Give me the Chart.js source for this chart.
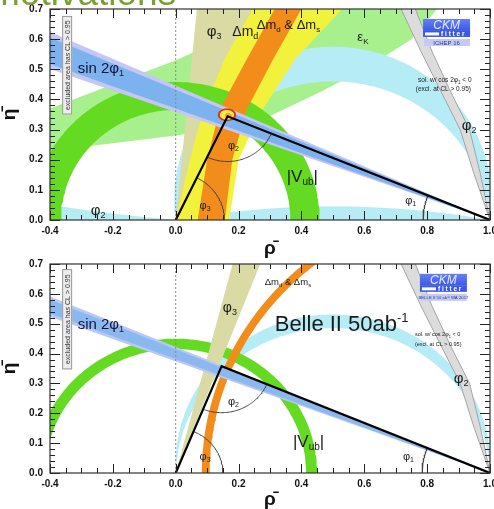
<!DOCTYPE html>
<html><head><meta charset="utf-8">
<script src="https://cdn.jsdelivr.net/npm/chart.js@4.4.1/dist/chart.umd.min.js"></script>
<style>
html,body{margin:0;padding:0;background:#fff;width:494px;height:509px;overflow:hidden;position:relative;font-family:"Liberation Sans",Arial,sans-serif}
#c1{position:absolute;left:0;top:0}
#c2{position:absolute;left:0;top:258px}
#ttl{position:absolute;left:-11px;top:-26px;font-size:37px;line-height:37px;color:#78a032;white-space:nowrap;z-index:5}
</style></head><body>
<div id="ttl">motivations</div>
<canvas id="c1" width="494" height="258"></canvas>
<canvas id="c2" width="494" height="251"></canvas>
<script>
// ---------------- data ----------------
const rhoRange = [-0.4, 1.0];
const etaRange = [0.0, 0.7];
const rhoTicks = [-0.4, -0.2, 0.0, 0.2, 0.4, 0.6, 0.8, 1.0];
const etaTicks = [0.0, 0.1, 0.2, 0.3, 0.4, 0.5, 0.6, 0.7];

// top panel: ICHEP 16 fit
const topApex = [0.165, 0.344];
const topVubRadii = [0.365, 0.458];
const topDmdLeft = [[-0.01,-0.02],[0.0,0.0],[0.045,0.2],[0.086,0.357],[0.155,0.533],[0.245,0.7],[0.275,0.76]];
const topDmdRight = [[0.17,-0.02],[0.17,0.0],[0.2,0.2],[0.27,0.357],[0.38,0.533],[0.53,0.7],[0.58,0.76]];
const topDmsLeft = [[0.07,-0.02],[0.07,0.0],[0.1,0.2],[0.14,0.367],[0.226,0.533],[0.315,0.7],[0.345,0.76]];
const topDmsRight = [[0.156,-0.02],[0.156,0.0],[0.18,0.2],[0.226,0.367],[0.31,0.533],[0.4,0.7],[0.43,0.76]];
const topGammaDeg = [62, 84.5];
const topBetaOuterDeg = [19.7, 24.0];
const topBetaInnerDeg = [20.3, 23.4];
const topAlphaK = [-0.042, 0.070];
const topAlphaFlatK = -2.75;
const topAlphaLeftK = 5.6;
const topEpsKUpper = [[-0.5,0.33],[-0.4,0.37],[-0.2,0.45],[0.0,0.53],[0.15,0.6],[0.3,0.68],[0.37,0.76]];
const topEpsKLower = [[-0.5,0.215],[-0.4,0.23],[-0.2,0.255],[0.0,0.28],[0.25,0.32],[0.45,0.42],[0.6,0.5],[0.75,0.6],[0.88,0.76]];
const topFit = [0.163, 0.349];
const topFitRadii = [[0.029,0.021],[0.023,0.016],[0.011,0.008]];
const topAngleRadii = [0.155, 0.15, 0.213];

// bottom panel: Belle II 50 ab^-1 projection
const botApex = [0.146, 0.358];
const botVubRadii = [0.415, 0.45];
const botDmRadii = [0.892, 0.917];
const botGammaDeg = [69, 75.5];
const botBetaOuterDeg = [20.5, 22.9];
const botBetaInnerDeg = [20.9, 22.5];
const botAlphaK = [-0.015, 0.03];
const botAngleRadii = [0.15, 0.156, 0.216];

// second sin2phi1 solution (cos 2phi1 < 0), both panels
const greyLeft = [[0.69,0.76],[0.78,0.56],[0.85,0.414],[0.905,0.3],[0.95,0.15],[1.0,0.0]];
const greyRight = [[0.74,0.76],[0.815,0.56],[0.88,0.414],[0.935,0.3],[0.97,0.15],[1.0,0.0]];

// ---------------- geometry helpers ----------------
const FF = '"Liberation Sans", Arial, Helvetica, sans-serif';
const R = Math.PI / 180;
function arcPts(cx, cy, rx, ry, a0, a1, n) {
  n = n || 120; const out = [];
  for (let i = 0; i <= n; i++) { const a = (a0 + (a1 - a0) * i / n) * R; out.push([cx + rx * Math.cos(a), cy + ry * Math.sin(a)]); }
  return out;
}
function ringPts(c, radii, a0, a1) {
  return arcPts(c[0], c[1], radii[1], radii[1], a0, a1).concat(arcPts(c[0], c[1], radii[0], radii[0], a1, a0));
}
function wedgePts(o, degs, fromRight) {
  const L = 3, s = fromRight ? -1 : 1;
  return [o, [o[0] + s * L * Math.cos(degs[0] * R), o[1] + L * Math.sin(degs[0] * R)],
             [o[0] + s * L * Math.cos(degs[1] * R), o[1] + L * Math.sin(degs[1] * R)]];
}
function alphaArc(k, rev) {
  const r = Math.hypot(0.5, k);
  let aL = Math.atan2(-k, -0.5) / R; if (aL < 0) aL += 360;
  const aR = Math.atan2(-k, 0.5) / R;
  const p = arcPts(0.5, k, r, r, aL, aR, 200);
  return rev ? p.reverse() : p;
}
function alphaBand(ks) { return alphaArc(ks[1], false).concat(alphaArc(ks[0], true)); }
function leftStrip(K, rhoMin) {
  const r = Math.hypot(0.5, K);
  const a0 = -Math.acos((rhoMin - 0.5) / r) / R, a1 = -Math.acos(-0.5 / r) / R;
  const p = arcPts(0.5, K, r, r, a0, a1, 60); p.push([rhoMin, 0]); return p;
}
function bandPts(upper, lower) { return upper.concat(lower.slice().reverse()); }
function angleAt(from, to) { let a = Math.atan2(to[1] - from[1], to[0] - from[0]) / R; if (a < 0) a += 360; return a; }

function poly(pts, color) {
  return { data: pts.map(p => ({x: p[0], y: p[1]})), showLine: true, fill: 'shape', backgroundColor: color,
           borderColor: 'rgba(0,0,0,0)', borderWidth: 0, pointRadius: 0, tension: 0 };
}
function line(pts, color, w, dash) {
  return { data: pts.map(p => ({x: p[0], y: p[1]})), showLine: true, fill: false, borderColor: color,
           borderWidth: w, borderDash: dash || [], pointRadius: 0, tension: 0 };
}
function angleArcs(apex, radii, col) {
  const aApexO = angleAt(apex, [0, 0]), aApexR = angleAt(apex, [1, 0]);
  return [
    line(arcPts(0, 0, radii[0], radii[0], 0, angleAt([0, 0], apex), 60), col, 1),
    line(arcPts(apex[0], apex[1], radii[1], radii[1], aApexO, aApexR, 60), col, 1),
    line(arcPts(1, 0, radii[2], radii[2], angleAt([1, 0], apex), 180, 40), col, 1)
  ];
}

// ---------------- text helpers ----------------
function rich(ctx, x, y, parts, color) {
  ctx.fillStyle = color || '#1a1a1a'; ctx.textAlign = 'left'; ctx.textBaseline = 'alphabetic';
  let cx = x;
  for (const [t, size, dy, style] of parts) {
    ctx.font = (style || '') + ' ' + size + 'px ' + FF;
    ctx.fillText(t, cx, y + (dy || 0));
    cx += ctx.measureText(t).width;
  }
}
function logo(ctx, x0, y0, sub, subSize) {
  const w = 47;
  const g = ctx.createLinearGradient(x0, y0, x0, y0 + 12);
  g.addColorStop(0, '#6680f4'); g.addColorStop(1, '#3a58e6');
  ctx.fillStyle = g; ctx.fillRect(x0, y0, w, 12);
  ctx.fillStyle = '#e6eaff'; ctx.font = 'italic 12px ' + FF; ctx.textAlign = 'center'; ctx.textBaseline = 'alphabetic';
  ctx.fillText('CKM', x0 + w / 2, y0 + 10.5);
  ctx.fillStyle = '#3a58e6'; ctx.fillRect(x0, y0 + 12, w, 6);
  ctx.fillStyle = '#ffffff'; ctx.fillRect(x0 + 2, y0 + 13.5, 14, 3);
  ctx.font = 'bold 6.5px ' + FF; ctx.textAlign = 'left';
  ctx.fillText('f i t t e r', x0 + 18, y0 + 17.3);
  ctx.fillStyle = '#c4caf4'; ctx.fillRect(x0 + 1, y0 + 20, w - 1, 7);
  ctx.fillStyle = '#2a3a9a'; ctx.font = subSize + 'px ' + FF; ctx.textAlign = 'center';
  ctx.fillText(sub, x0 + w / 2, y0 + 25.6);
}
function exclBox(ctx, cx, y0, y1) {
  ctx.fillStyle = '#ececec'; ctx.strokeStyle = '#999'; ctx.lineWidth = 1;
  ctx.fillRect(cx - 5, y0, 10, y1 - y0); ctx.strokeRect(cx - 5 + 0.5, y0 + 0.5, 9, y1 - y0 - 1);
  ctx.save(); ctx.translate(cx + 2.5, (y0 + y1) / 2); ctx.rotate(-Math.PI / 2);
  ctx.font = '7px ' + FF; ctx.textAlign = 'center'; ctx.fillStyle = '#333';
  ctx.fillText('excluded area has CL > 0.95', 0, 0); ctx.restore();
}

// ---------------- panels ----------------
const greyBand = bandPts(greyLeft, greyRight);
const C = { epsK: '#a8ef8e', cyan: '#b6ecf6', grey: '#dcdcdc', greyLine: '#a4a4a4', khaki: '#dadaa4',
            yellow: '#f2f23c', vub: '#64da22', orange: '#f28c1a', lav: '#c4c6f4', blue: '#7cb2ee' };

const topPanel = {
  padTop: 9, xH: 38,
  datasets: [
    poly(bandPts(topEpsKUpper, topEpsKLower), C.epsK),
    poly(alphaBand(topAlphaK), C.cyan),
    poly(alphaArc(topAlphaFlatK, false), C.cyan),
    poly(leftStrip(topAlphaLeftK, -0.5), C.cyan),
    poly(greyBand, C.grey),
    line(greyLeft, C.greyLine, 1), line(greyRight, C.greyLine, 1),
    poly(wedgePts([0, 0], topGammaDeg, false), C.khaki),
    poly(bandPts(topDmdLeft, topDmdRight), C.yellow),
    poly(ringPts([0, 0], topVubRadii, 0, 180), C.vub),
    poly(bandPts(topDmsLeft, topDmsRight), C.orange),
    poly(wedgePts([1, 0], topBetaOuterDeg, true), C.lav),
    poly(wedgePts([1, 0], topBetaInnerDeg, true), C.blue),
    poly(arcPts(topFit[0], topFit[1], topFitRadii[0][0], topFitRadii[0][1], 0, 360, 60), '#e02a1a'),
    poly(arcPts(topFit[0], topFit[1], topFitRadii[1][0], topFitRadii[1][1], 0, 360, 60), '#f6ee3a'),
    poly(arcPts(topFit[0] + 0.004, topFit[1] - 0.002, topFitRadii[2][0], topFitRadii[2][1], 0, 360, 40), '#f0a428'),
    line([[0, 0], [0, 0.7]], '#8a8a8a', 1, [2, 2]),
    ...angleArcs(topApex, topAngleRadii, '#444'),
    line([[0, 0], topApex, [1, 0]], '#000', 2.2)
  ],
  draw(ctx, P) {
    let p = P(-0.3455, 0.677), q = P(-0.3455, 0.35); exclBox(ctx, p[0], p[1], q[1]);
    p = P(0.787, 0.667); logo(ctx, p[0], p[1], 'ICHEP 16', 6);
    const L = [
      [0.099, 0.612, [['φ', 15], ['3', 9, 3]]],
      [0.18, 0.61, [['Δm', 14], ['d', 9, 3]]],
      [0.258, 0.632, [['Δm', 13], ['d', 8, 3], [' & Δm', 13], ['s', 8, 3]]],
      [0.578, 0.595, [['ε', 13], ['K', 8, 3]]],
      [0.91, 0.3, [['φ', 15], ['2', 9, 3]]],
      [-0.27, 0.018, [['φ', 15], ['2', 9, 3]]],
      [0.166, 0.236, [['φ', 11], ['2', 7, 2]]],
      [0.076, 0.035, [['φ', 11], ['3', 7, 2]]],
      [0.353, 0.125, [['|V', 17], ['ub', 10, 3], ['|', 17]]],
      [0.73, 0.052, [['φ', 11], ['1', 7, 2]]],
      [0.771, 0.457, [['sol. w/ cos 2φ', 6.5], ['1', 4.5, 1.5], [' < 0', 6.5]]],
      [0.764, 0.427, [['(excl. at CL > 0.95)', 6.5]]]
    ];
    for (const [r, e, parts] of L) { const s = P(r, e); rich(ctx, s[0], s[1], parts); }
    p = P(-0.312, 0.487); rich(ctx, p[0], p[1], [['sin 2φ', 15], ['1', 9, 3]], '#14143a');
  }
};

const botPanel = {
  padTop: 6, xH: 36,
  datasets: [
    poly(alphaBand(botAlphaK), C.cyan),
    poly(greyBand, C.grey),
    line(greyLeft, C.greyLine, 1), line(greyRight, C.greyLine, 1),
    poly(ringPts([0, 0], botVubRadii, 0, 180), C.vub),
    poly(wedgePts([0, 0], botGammaDeg, false), C.khaki),
    poly(ringPts([1, 0], botDmRadii, 90, 180), C.orange),
    poly(wedgePts([1, 0], botBetaOuterDeg, true), '#b9c8f4'),
    poly(wedgePts([1, 0], botBetaInnerDeg, true), '#8cb8f0'),
    line([[0, 0], [0, 0.7]], '#8a8a8a', 1, [2, 2]),
    ...angleArcs(botApex, botAngleRadii, '#444'),
    line([[0, 0], botApex, [1, 0]], '#000', 2.2)
  ],
  draw(ctx, P) {
    let p = P(-0.3455, 0.683), q = P(-0.3455, 0.347); exclBox(ctx, p[0], p[1], q[1]);
    p = P(0.777, 0.667); logo(ctx, p[0], p[1], 'BELLE II 50 ab⁻¹ WA 2017', 4.3);
    const L = [
      [0.15, 0.54, [['φ', 14], ['3', 9, 3]]],
      [0.283, 0.63, [['Δm', 9.5], ['d', 6, 2], [' & Δm', 9.5], ['s', 6, 2]]],
      [0.315, 0.476, [['Belle II 50ab', 22], ['-1', 13, -9]]],
      [0.761, 0.458, [['sol. w/ cos 2φ', 5.5], ['1', 4, 1.5], [' < 0', 5.5]]],
      [0.761, 0.424, [['(excl. at CL > 0.95)', 5.5]]],
      [0.885, 0.30, [['φ', 15], ['2', 9, 3]]],
      [0.373, 0.088, [['|V', 17], ['ub', 10, 3], ['|', 17]]],
      [0.723, 0.044, [['φ', 11], ['1', 7, 2]]],
      [0.166, 0.229, [['φ', 11], ['2', 7, 2]]],
      [0.076, 0.044, [['φ', 11], ['3', 7, 2]]]
    ];
    for (const [r, e, parts] of L) { const s = P(r, e); rich(ctx, s[0], s[1], parts); }
    p = P(-0.312, 0.482); rich(ctx, p[0], p[1], [['sin 2φ', 15], ['1', 9, 3]], '#14143a');
  }
};

// ---------------- chart factory ----------------
function makeDecor(panel) {
  return {
    id: 'decor',
    afterDatasetsDraw(chart) {
      const {ctx, chartArea: a, scales: {x, y}} = chart;
      const P = (r, e) => [x.getPixelForValue(r), y.getPixelForValue(e)];
      ctx.save();
      panel.draw(ctx, P);
      ctx.strokeStyle = '#222'; ctx.lineWidth = 1; ctx.beginPath();
      for (let i = 0; i <= 28; i++) {
        const v = rhoRange[0] + i * 0.05, px = Math.round(x.getPixelForValue(v)) + 0.5, L = i % 4 === 0 ? 9 : 5;
        ctx.moveTo(px, a.bottom); ctx.lineTo(px, a.bottom - L); ctx.moveTo(px, a.top); ctx.lineTo(px, a.top + L);
      }
      for (let i = 0; i <= 35; i++) {
        const v = etaRange[0] + i * 0.02, py = Math.round(y.getPixelForValue(v)) + 0.5, L = i % 5 === 0 ? 10 : 5;
        ctx.moveTo(a.left, py); ctx.lineTo(a.left + L, py); ctx.moveTo(a.right, py); ctx.lineTo(a.right - L, py);
      }
      ctx.stroke();
      ctx.strokeStyle = '#333'; ctx.lineWidth = 1.2;
      ctx.strokeRect(a.left, a.top, a.right - a.left, a.bottom - a.top);
      ctx.restore();
    }
  };
}
const fmt = v => (Math.abs(v) < 1e-9 ? 0 : v).toFixed(1);
function makeChart(id, panel) {
  return new Chart(document.getElementById(id), {
    type: 'scatter',
    data: { datasets: panel.datasets.slice().reverse() },
    options: {
      responsive: false, animation: false, events: [],
      layout: { padding: { top: panel.padTop, right: 4, left: 0, bottom: 0 } },
      plugins: { legend: { display: false }, tooltip: { enabled: false } },
      scales: {
        x: { type: 'linear', min: rhoRange[0], max: rhoRange[1],
             afterFit(s) { s.height = panel.xH; s.paddingLeft = 0; s.paddingRight = 0; },
             afterBuildTicks(s) { s.ticks = rhoTicks.map(v => ({ value: v })); },
             ticks: { autoSkip: false, maxRotation: 0, padding: 5, color: '#111', font: { family: FF, weight: 'bold', size: 10 }, callback: fmt },
             grid: { display: false, drawTicks: false }, border: { display: false },
             title: { display: true, text: 'ρ̄', color: '#111', font: { family: FF, weight: 'bold', size: 19, lineHeight: 1 }, padding: 0 } },
        y: { type: 'linear', min: etaRange[0], max: etaRange[1],
             afterFit(s) { s.width = 50; s.paddingTop = 0; s.paddingBottom = 0; },
             afterBuildTicks(s) { s.ticks = etaTicks.map(v => ({ value: v })); },
             ticks: { autoSkip: false, padding: 7, color: '#111', font: { family: FF, weight: 'bold', size: 10 }, callback: fmt },
             grid: { display: false, drawTicks: false }, border: { display: false },
             title: { display: true, text: 'η̄', color: '#111', font: { family: FF, weight: 'bold', size: 19, lineHeight: 1 }, padding: 0 } }
      }
    },
    plugins: [makeDecor(panel)]
  });
}
makeChart('c1', topPanel);
makeChart('c2', botPanel);
</script>
</body></html>
